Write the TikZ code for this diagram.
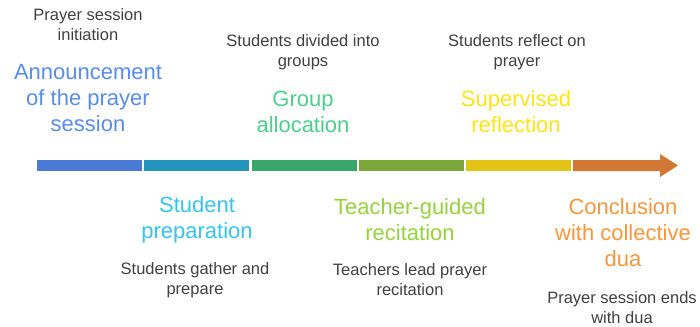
\documentclass[tikz,border=0pt]{standalone}
\usepackage{fontspec}
\setmainfont{Liberation Sans}

\definecolor{notegray}{RGB}{64,64,64}
\definecolor{phaseA}{RGB}{88,140,238}
\definecolor{barA}{RGB}{74,122,214}
\definecolor{phaseB}{RGB}{52,196,240}
\definecolor{barB}{RGB}{36,148,188}
\definecolor{phaseC}{RGB}{76,207,140}
\definecolor{barC}{RGB}{58,166,108}
\definecolor{phaseD}{RGB}{150,210,60}
\definecolor{barD}{RGB}{122,166,58}
\definecolor{phaseE}{RGB}{255,228,20}
\definecolor{barE}{RGB}{226,196,22}
\definecolor{phaseF}{RGB}{248,150,60}
\definecolor{barF}{RGB}{208,120,52}

\tikzset{
  phase/.style={align=center, inner sep=0pt, font=\fontsize{22}{26}\selectfont},
  note/.style={align=center, inner sep=0pt, text=notegray, font=\fontsize{16.5}{20}\selectfont}
}

\begin{document}
\begin{tikzpicture}[x=1pt, y=-1pt]
        \useasboundingbox (0,0) rectangle (700,326);
        % Bar
        \fill[barA] (37,160) rectangle (142,171);
        \fill[barB] (144,160) rectangle (249,171);
        \fill[barC] (251.5,160) rectangle (356.5,171);
        \fill[barD] (359,160) rectangle (464,171);
        \fill[barE] (466,160) rectangle (571,171);
        \fill[barF] (573,160) -- (660,160) -- (660,154) -- (678,165.5)
              -- (660,177) -- (660,171) -- (573,171) -- cycle;
        % Phase 1
        \node[note] (initiation) at (88,25) {Prayer session\\initiation};
        \node[phase, text=phaseA] (announce) at (88,98) {Announcement\\of the prayer\\session};
        % Phase 2
        \node[phase, text=phaseB] (prepare) at (197,220) {Student\\preparation};
        \node[note] (gather) at (195,280) {Students gather and\\prepare};
        % Phase 3
        \node[note] (divided) at (303,52) {Students divided into\\groups};
        \node[phase, text=phaseC] (groups) at (303,112) {Group\\allocation};
        % Phase 4
        \node[phase, text=phaseD] (recite) at (410,220) {Teacher-guided\\recitation};
        \node[note] (lead) at (410,280) {Teachers lead prayer\\recitation};
        % Phase 5
        \node[note] (reflect) at (517,52) {Students reflect on\\prayer};
        \node[phase, text=phaseE] (supervise) at (516,112) {Supervised\\reflection};
        % Phase 6
        \node[phase, text=phaseF] (conclude) at (623,233) {Conclusion\\with collective\\dua};
        \node[note] (ends) at (622,308) {Prayer session ends\\with dua};
\end{tikzpicture}
\end{document}
